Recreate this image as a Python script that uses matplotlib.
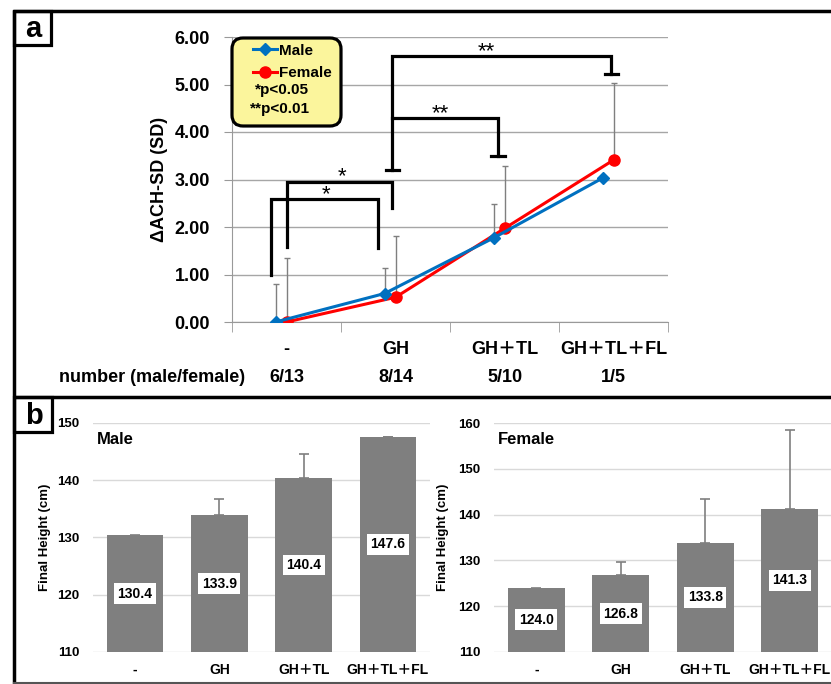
import matplotlib
matplotlib.use("Agg")
import matplotlib.pyplot as plt
import numpy as np
from matplotlib.patches import FancyBboxPatch, Rectangle

plt.rcParams['font.family'] = ['Liberation Sans', 'Noto Sans CJK JP', 'DejaVu Sans']
plt.rcParams['font.weight'] = 'bold'
plt.rcParams['axes.labelweight'] = 'bold'

# ---- data ----
groups = ['-', 'GH', 'GH＋TL', 'GH＋TL＋FL']
counts = ['6/13', '8/14', '5/10', '1/5']

male_ach = [0.00, 0.60, 1.77, 3.03]
male_ach_sd = [0.80, 0.54, 0.71, np.nan]
female_ach = [0.00, 0.52, 1.97, 3.41]
female_ach_sd = [1.35, 1.29, 1.31, 1.63]

male_height = [130.4, 133.9, 140.4, 147.6]
male_height_sd = [np.nan, 2.9, 4.1, 0.0]
female_height = [124.0, 126.8, 133.8, 141.3]
female_height_sd = [np.nan, 2.8, 9.7, 17.2]

# significance brackets (x in category units, y in SD)
brackets = [
    ([-0.14, -0.14, 0.84, 0.84], [1.00, 2.58, 2.58, 1.55]),
    ([0.00, 0.00, 0.97, 0.97], [1.57, 2.95, 2.95, 2.40]),
    ([0.97, 0.97, 1.94, 1.94], [3.20, 4.29, 4.29, 3.50]),
    ([0.97, 0.97, 2.98, 2.98], [4.29, 5.60, 5.60, 5.22]),
]
bracket_caps = [(0.97, 3.20), (1.94, 3.50), (2.98, 5.22)]
stars = [('*', 0.36, 2.58), ('*', 0.51, 2.95), ('**', 1.41, 4.29), ('**', 1.83, 5.60)]

W, H = 831, 684
BLUE = '#0070C0'
RED = '#FF0000'


def px_rect(x0, y0, x1, y1):
    return [x0 / W, 1 - y1 / H, (x1 - x0) / W, (y1 - y0) / H]


def main():
    fig = plt.figure(figsize=(W / 100, H / 100), dpi=100)

    # ---------- panel a ----------
    ax = fig.add_axes(px_rect(232, 37, 668, 322))
    x = np.arange(len(groups))
    off = -0.1
    ax.errorbar(x + off, male_ach, yerr=[np.zeros(4), male_ach_sd], fmt='none',
                ecolor='#7f7f7f', elinewidth=1, capsize=2.5, capthick=1, zorder=2)
    ax.errorbar(x, female_ach, yerr=[np.zeros(4), female_ach_sd], fmt='none',
                ecolor='#7f7f7f', elinewidth=1, capsize=2.5, capthick=1, zorder=2)
    lm, = ax.plot(x + off, male_ach, color=BLUE, lw=2.2, marker='D', ms=6, zorder=4)
    lf, = ax.plot(x, female_ach, color=RED, lw=2.2, marker='o', ms=8, zorder=3)

    ax.set_xlim(-0.5, 3.5)
    ax.set_ylim(0, 6)
    ax.set_yticks(np.arange(0, 7, 1))
    ax.set_yticklabels([f'{v:.2f}' for v in np.arange(0, 7, 1)], fontsize=13)
    ax.set_xticks(x)
    ax.set_xticklabels(groups, fontsize=13)
    ax.set_xticks(np.arange(-0.5, 4, 1), minor=True)
    ax.tick_params(axis='x', which='major', length=0, pad=14)
    ax.tick_params(axis='x', which='minor', length=7, color='#999999', direction='out')
    ax.tick_params(axis='y', length=6, color='#999999', pad=10)
    ax.grid(axis='y', color='#a6a6a6', lw=1)
    ax.set_axisbelow(True)
    for s in ['top', 'right']:
        ax.spines[s].set_visible(False)
    ax.spines['left'].set_color('#999999')
    ax.spines['bottom'].set_color('#999999')
    ax.set_ylabel('ΔACH-SD (SD)', fontsize=13)
    ax.yaxis.set_label_coords(-0.147, 0.5)

    for bx, by in brackets:
        ax.plot(bx, by, color='black', lw=2.3, solid_joinstyle='miter', clip_on=False, zorder=5)
    for cx, cy in bracket_caps:
        ax.plot([cx - 0.06, cx + 0.06], [cy, cy], color='black', lw=2.3, clip_on=False, zorder=5)
    for s, sx, sy in stars:
        ax.text(sx, sy + 0.1, s, ha='center', va='center', fontsize=16,
                fontweight='normal', zorder=5)

    tr = ax.get_xaxis_transform()
    ax.text(-0.38, -0.193, 'number (male/female)', transform=tr, ha='right',
            va='center', fontsize=13)
    for i, c in enumerate(counts):
        ax.text(i, -0.193, c, transform=tr, ha='center', va='center', fontsize=13)

    # ---------- panel b ----------
    def bar_panel(rect, vals, sds, ylim, yticks, title, labx):
        bx = fig.add_axes(rect)
        xb = np.arange(len(groups))
        bx.bar(xb, np.array(vals) - ylim[0], bottom=ylim[0], width=0.67,
               color='#7f7f7f', zorder=2)
        bx.errorbar(xb, vals, yerr=[np.zeros(4), sds], fmt='none', ecolor='#7f7f7f',
                    elinewidth=1.2, capsize=3.5, capthick=1.2, zorder=1)
        for i, v in enumerate(vals):
            bx.text(i, (ylim[0] + v) / 2, f'{v:.1f}', ha='center', va='center',
                    fontsize=10, zorder=3,
                    bbox=dict(boxstyle='square,pad=0.25', fc='white', ec='none'))
        bx.set_xlim(-0.5, 3.5)
        bx.set_ylim(*ylim)
        bx.set_yticks(yticks)
        bx.set_yticklabels([str(t) for t in yticks], fontsize=9.5)
        bx.set_xticks(xb)
        bx.set_xticklabels(groups, fontsize=10)
        bx.tick_params(length=0)
        bx.tick_params(axis='y', pad=10)
        bx.tick_params(axis='x', pad=8)
        bx.grid(axis='y', color='#d9d9d9', lw=1, zorder=0)
        bx.set_axisbelow(True)
        for s in bx.spines.values():
            s.set_visible(False)
        bx.set_ylabel('Final Height (cm)', fontsize=9.5)
        bx.yaxis.set_label_coords(labx, 0.5)
        bx.text(0.012, 0.93, title, transform=bx.transAxes, ha='left', va='center',
                fontsize=12)
        return bx

    bar_panel(px_rect(93, 423, 430, 652), male_height, male_height_sd,
              (110, 150), [110, 120, 130, 140, 150], 'Male', -0.125)
    bar_panel(px_rect(494, 423, 832, 652), female_height, female_height_sd,
              (110, 160), [110, 120, 130, 140, 150, 160], 'Female', -0.134)

    # ---------- frame / overlay ----------
    ov = fig.add_axes([0, 0, 1, 1], zorder=10)
    ov.set_xlim(0, W)
    ov.set_ylim(H, 0)
    ov.axis('off')
    ov.plot([13, W], [10.5, 10.5], color='black', lw=2.5, solid_capstyle='butt')
    ov.plot([14, 14], [10, H], color='black', lw=2.5, solid_capstyle='butt')
    ov.plot([13, W], [396.5, 396.5], color='black', lw=2.5, solid_capstyle='butt')
    ov.plot([13, W], [682.5, 682.5], color='#555555', lw=1.5, solid_capstyle='butt')
    for (x0, y0, x1, y1, lab) in [(14, 11, 51, 45, 'a'), (14, 397, 52, 432, 'b')]:
        ov.add_patch(Rectangle((x0, y0), x1 - x0, y1 - y0, fc='white', ec='black', lw=2.3))
        ov.text((x0 + x1) / 2 + 1, (y0 + y1) / 2 + 1, lab, ha='center', va='center',
                fontsize=21)

    ov.add_patch(FancyBboxPatch((232, 38), 109, 88, boxstyle='round,pad=0,rounding_size=11',
                                fc='#FBF59C', ec='black', lw=2.3))
    ov.legend([lm, lf], ['Male', 'Female'], loc='upper left',
              bbox_to_anchor=(242 / W, 1 - 33 / H), frameon=False, fontsize=11,
              handlelength=1.6, handletextpad=0.1, labelspacing=0.55, borderpad=0.2)
    ov.text(255, 90, '*p<0.05', ha='left', va='center', fontsize=11)
    ov.text(250, 109, '**p<0.01', ha='left', va='center', fontsize=11)

    fig.savefig('out.png', dpi=100)


if __name__ == '__main__':
    main()
